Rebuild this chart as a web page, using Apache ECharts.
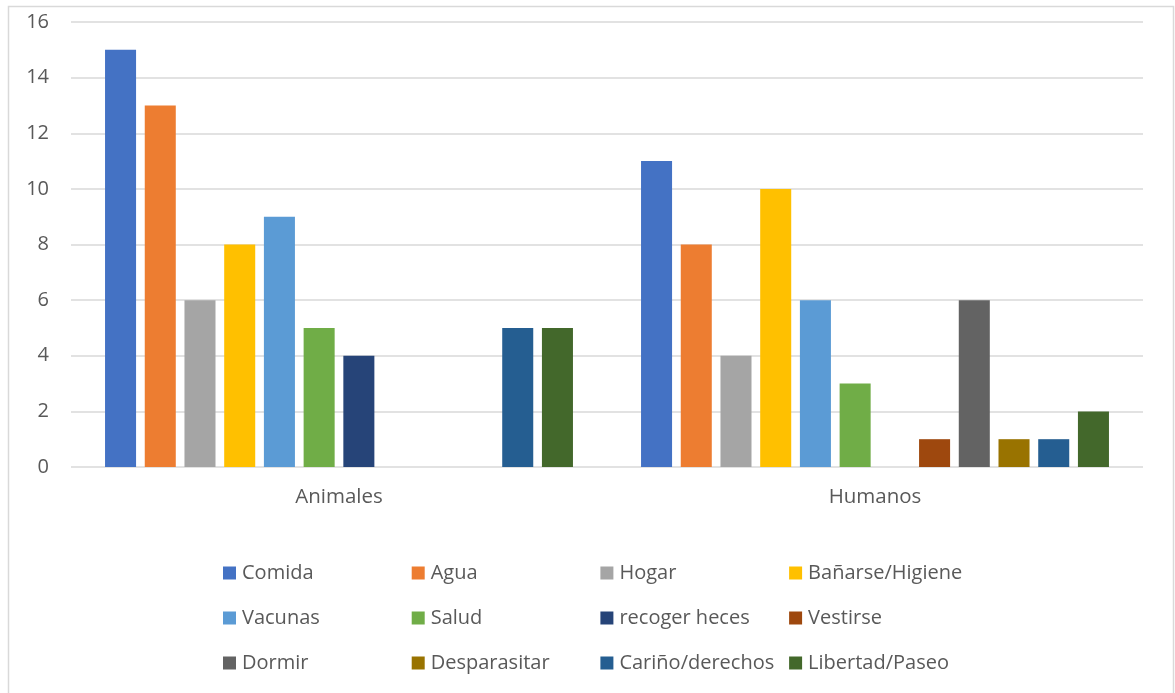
<!DOCTYPE html>
<html>
<head>
<meta charset="utf-8">
<script src="https://cdn.jsdelivr.net/npm/echarts@6/dist/echarts.min.js"></script>
<style>
html,body{margin:0;padding:0;background:#fff;}
#chart{width:1175px;height:693px;}
</style>
</head>
<body>
<div id="chart"></div>
<script>
const categories = ['Animales', 'Humanos'];
const seriesNames = ['Comida', 'Agua', 'Hogar', 'Bañarse/Higiene', 'Vacunas', 'Salud', 'recoger heces', 'Vestirse', 'Dormir', 'Desparasitar', 'Cariño/derechos', 'Libertad/Paseo'];
const comida = [15, 11];
const agua = [13, 8];
const hogar = [6, 4];
const banarse = [8, 10];
const vacunas = [9, 6];
const salud = [5, 3];
const recogerHeces = [4, 0];
const vestirse = [0, 1];
const dormir = [0, 6];
const desparasitar = [0, 1];
const carino = [5, 1];
const libertad = [5, 2];
const seriesValues = [comida, agua, hogar, banarse, vacunas, salud, recogerHeces, vestirse, dormir, desparasitar, carino, libertad];
const colors = ['#4472C4', '#ED7D31', '#A5A5A5', '#FFC000', '#5B9BD5', '#70AD47', '#264478', '#9E480E', '#636363', '#997300', '#255E91', '#43682B'];

const FONT = '"Open Sans", "Noto Sans", sans-serif';
const chart = echarts.init(document.getElementById('chart'));

const legends = seriesNames.map((name, i) => ({
  data: [name],
  left: 223 + (i % 4) * 188.7,
  top: 563 + Math.floor(i / 4) * 45,
  orient: 'horizontal',
  icon: 'rect',
  itemWidth: 13,
  itemHeight: 13,
  padding: 0,
  selectedMode: false,
  textStyle: { fontFamily: FONT, fontSize: 20, color: '#595959', padding: [0, 0, 0, 1] }
}));

chart.setOption({
  animation: false,
  color: colors,
  graphic: [{
    type: 'rect',
    shape: { x: 8.5, y: 6.5, width: 1165, height: 700 },
    style: { fill: 'none', stroke: '#d9d9d9', lineWidth: 1.5 },
    silent: true
  }],
  grid: { left: 71, right: 32, top: 22, bottom: 226, containLabel: false },
  legend: legends,
  xAxis: {
    type: 'category',
    data: categories,
    axisLine: { show: false },
    axisTick: { show: false },
    axisLabel: { fontFamily: FONT, fontSize: 20.5, color: '#595959', margin: 20 }
  },
  yAxis: {
    type: 'value',
    min: 0, max: 16, interval: 2,
    axisLine: { show: false },
    axisTick: { show: false },
    axisLabel: { fontFamily: FONT, fontSize: 20, color: '#595959', margin: 22 },
    splitLine: { lineStyle: { color: '#d9d9d9', width: 1.5 } }
  },
  series: seriesNames.map((name, i) => ({
    name: name,
    type: 'bar',
    data: seriesValues[i],
    barGap: '28%',
    barCategoryGap: '12.7%',
    itemStyle: { color: colors[i] }
  }))
});
</script>
</body>
</html>
